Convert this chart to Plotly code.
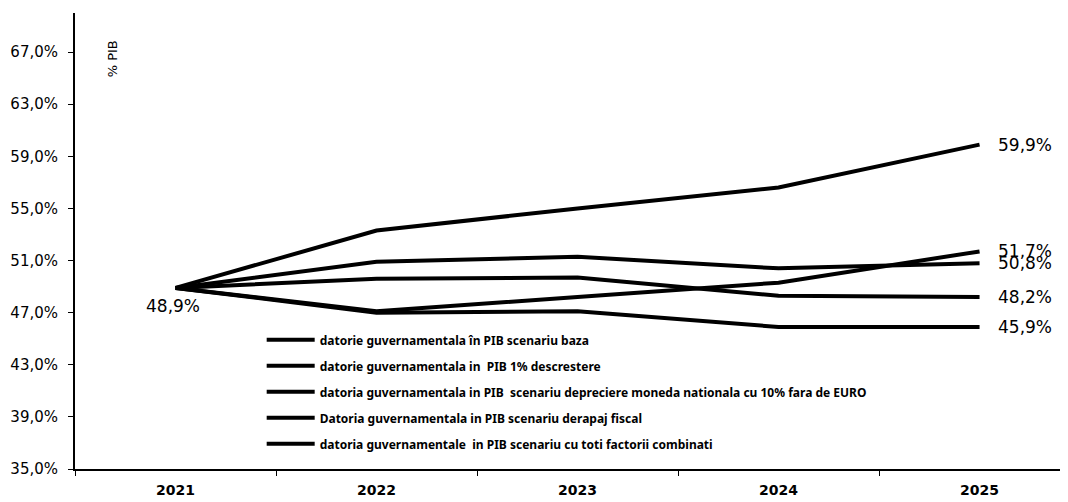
import plotly.graph_objects as go

years = ["2021", "2022", "2023", "2024", "2025"]

series_names = [
    "datorie guvernamentala în PIB scenariu baza",
    "datorie guvernamentala in  PIB 1% descrestere",
    "datoria guvernamentala in PIB  scenariu depreciere moneda nationala cu 10% fara de EURO",
    "Datoria guvernamentala in PIB scenariu derapaj fiscal",
    "datoria guvernamentale  in PIB scenariu cu toti factorii combinati",
]
baza = [48.9, 47.0, 47.1, 45.9, 45.9]
descrestere = [48.9, 49.6, 49.7, 48.3, 48.2]
depreciere = [48.9, 50.9, 51.3, 50.4, 50.8]
derapaj = [48.9, 47.1, 48.2, 49.3, 51.7]
combinati = [48.9, 53.3, 55.0, 56.6, 59.9]
all_series = [baza, descrestere, depreciere, derapaj, combinati]

y_ticks = [35, 39, 43, 47, 51, 55, 59, 63, 67]


def pct(v):
    return f"{v:.1f}%".replace(".", ",")


last = len(years) - 1

fig = go.Figure()
for i, (name, vals) in enumerate(zip(series_names, all_series)):
    fig.add_trace(go.Scatter(
        x=years, y=vals, name=name, mode="lines",
        line=dict(color="black", width=4),
        legendgroup=f"g{i}",
    ))
    fig.add_annotation(
        x=last, y=vals[-1], text=pct(vals[-1]), showarrow=False,
        xanchor="left", yanchor="middle", xshift=16,
        font=dict(family="DejaVu Sans", size=17, color="black"),
    )

fig.add_annotation(
    x=0, y=baza[0], text=pct(baza[0]), showarrow=False,
    xanchor="center", yanchor="top", yshift=-6, xshift=-3,
    font=dict(family="DejaVu Sans", size=17, color="black"),
)
fig.add_annotation(
    xref="paper", yref="paper", x=0.038, y=0.9, text="% PIB", textangle=-90,
    xanchor="center", yanchor="middle",
    showarrow=False, font=dict(family="DejaVu Sans", size=13, color="black"),
)

# page body has an 8px default margin; size the figure to the visible area
fig.update_layout(
    width=1060, height=494,
    margin=dict(l=67, r=0, t=5, b=33),
    paper_bgcolor="white", plot_bgcolor="white",
    showlegend=True,
    legend=dict(
        x=0.188, y=0.315, xanchor="left", yanchor="top",
        bgcolor="rgba(0,0,0,0)",
        font=dict(family="Noto Sans", size=12, color="black", weight="bold"),
        tracegroupgap=7, itemwidth=48,
    ),
    xaxis=dict(
        type="category", range=[-0.5, 4.44], automargin=False,
        showline=True, linecolor="black", linewidth=2,
        ticks="outside", tickson="boundaries", ticklen=5, tickcolor="black",
        showgrid=False, zeroline=False, ticklabelstandoff=7,
        tickfont=dict(family="DejaVu Sans", size=14, color="black", weight="bold"),
    ),
    yaxis=dict(
        range=[35, 70], tickvals=y_ticks, ticktext=[pct(v) for v in y_ticks],
        automargin=False, ticklabelstandoff=7,
        showline=True, linecolor="black", linewidth=2,
        ticks="outside", ticklen=5, tickcolor="black",
        showgrid=False, zeroline=False,
        tickfont=dict(family="DejaVu Sans", size=15, color="black"),
    ),
)

fig.write_html("out.html")
